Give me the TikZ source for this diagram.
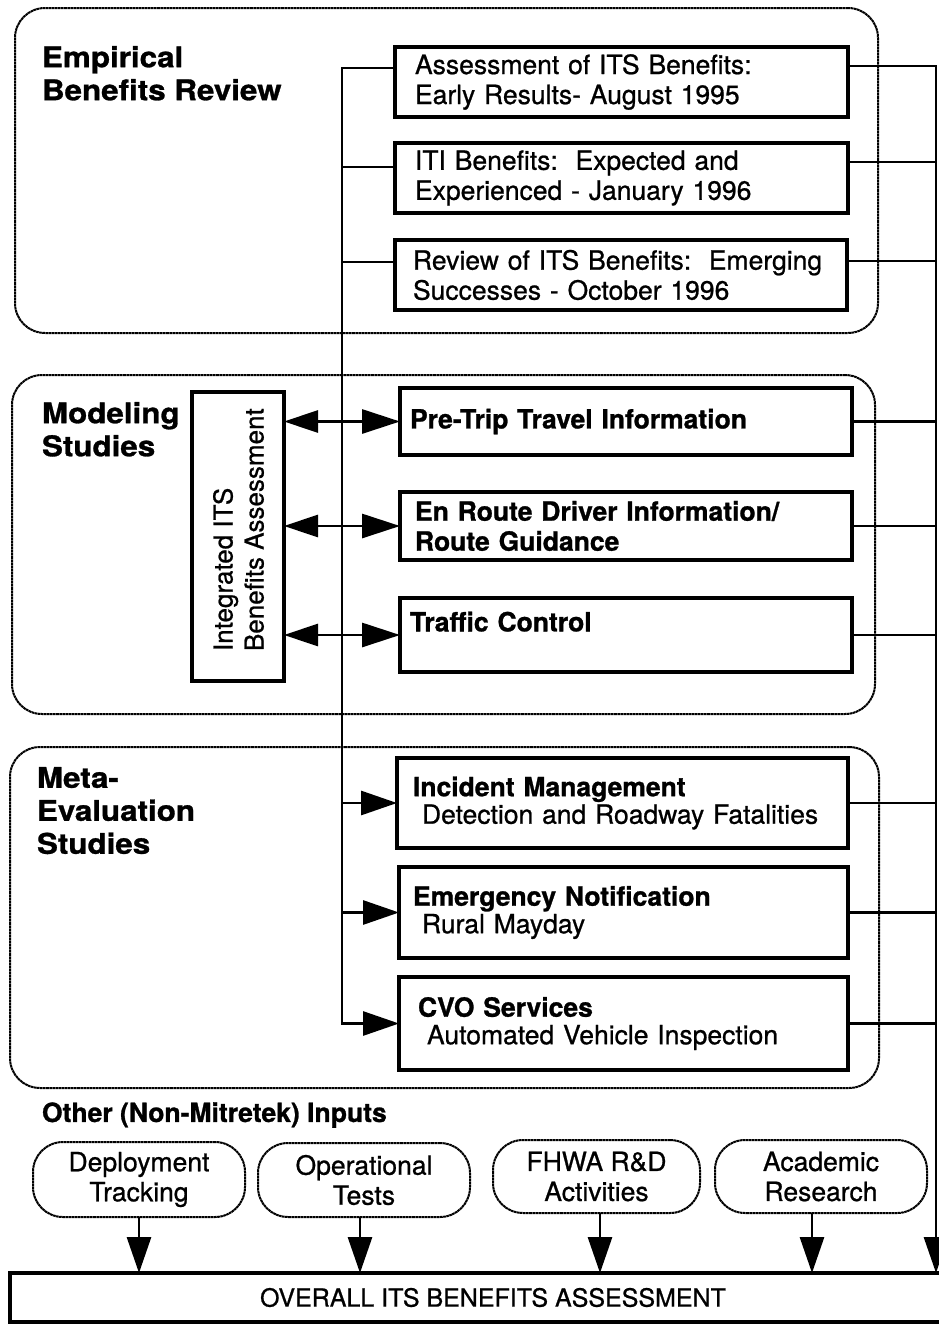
\documentclass[tikz,border=0pt]{standalone}
\usepackage{fontspec}
\setmainfont{TeX Gyre Heros}[UprightFeatures={FakeBold=0.8},BoldFeatures={FakeBold=1.0}]
\newfontfamily\titlefont{TeX Gyre Heros}[FakeStretch=1.1,UprightFeatures={FakeBold=0.8},BoldFeatures={FakeBold=1.0}]
\usetikzlibrary{arrows.meta}
\begin{document}
\begin{tikzpicture}[x=1pt,y=-1pt,
 every node/.style={inner sep=0pt,outer sep=0pt},
 conn/.style={line width=2.9pt},
 arr/.style={-{Triangle[length=36pt,width=24pt]}},
 darr/.style={{Triangle[length=34pt,width=22pt]}-{Triangle[length=38pt,width=24pt]}},
 wavy/.style={draw,line width=2pt,dash pattern=on 2.6pt off 0.5pt},
 grp/.style={wavy,rounded corners=30pt,anchor=north west},
 pill/.style={wavy,rounded corners=30pt,anchor=north west,align=center,font=\fontsize{26.5}{30}\selectfont},
 tbox/.style={draw,line width=3.2pt,anchor=north west,align=left,inner ysep=0pt},
 boxdim/.style n args={4}{minimum width=#1pt,minimum height=#2pt,inner xsep=#3pt,text width=#4pt},
 reg/.style={font=\fontsize{26.5}{30}\selectfont},
 bld/.style={font=\fontsize{26.5}{30}\selectfont\bfseries},
 mix/.style={font=\fontsize{26.5}{27.5}\selectfont},
 title/.style={font=\titlefont\fontsize{28.5}{33}\selectfont\bfseries,align=left,anchor=north west},
]
\fill[white] (0,0) rectangle (939,1325);
\useasboundingbox (0,0) rectangle (939,1325);

% group frames
\node[grp,minimum width=863pt,minimum height=325pt] (g1) at (15,8) {};
\node[grp,minimum width=863pt,minimum height=339pt] (g2) at (12,375) {};
\node[grp,minimum width=869pt,minimum height=341pt] (g3) at (10,747) {};

% titles
\node[title] (t1) at (42,46) {Empirical\\Benefits Review};
\node[title] (t2) at (42,402) {Modeling\\Studies};
\node[title] (t3) at (37,767) {Meta-\\Evaluation\\Studies};

% boxes
\node[tbox,reg,boxdim={453}{70}{20}{413}] (A) at (395,47) {Assessment of ITS Benefits:\\Early Results- August 1995};
\node[tbox,reg,boxdim={453}{70}{20}{413}] (B) at (395,143) {ITI Benefits:\ \ Expected and\\Experienced - January 1996};
\node[tbox,reg,boxdim={452}{70}{18}{416}] (C) at (395,240) {Review of ITS Benefits:\ \ Emerging\\Successes - October 1996};

\node[tbox,bld,boxdim={452}{67}{10}{432}] (P) at (400,388) {Pre-Trip Travel Information};
\node[tbox,bld,boxdim={452}{68}{15}{422}] (E) at (400,492) {En Route Driver Information/\\Route Guidance};
\node[tbox,bld,boxdim={452}{74}{10}{432}] (T) at (400,598) {Traffic Control\\[-12pt]\strut};

\node[tbox,mix,boxdim={451}{90}{16}{419}] (I) at (397,758) {\textbf{Incident Management}\\\hspace*{9pt}Detection and Roadway Fatalities};
\node[tbox,mix,boxdim={449}{91}{14}{421}] (N) at (399,867) {\textbf{Emergency Notification}\\\hspace*{9pt}Rural Mayday};
\node[tbox,mix,boxdim={449}{93}{19}{411}] (V) at (399,977) {\textbf{CVO Services}\\\hspace*{9pt}Automated Vehicle Inspection};

% integrated box
\node[draw,line width=3.2pt,anchor=north west,minimum width=92pt,minimum height=289pt] (Int) at (192,392) {};
\node[rotate=90,anchor=west,align=left,font=\fontsize{26}{31}\selectfont] (IntT) at (238.5,651) {Integrated ITS\\Benefits Assessment};

% bottom
\node[anchor=west,font=\fontsize{26.5}{30}\selectfont\bfseries] (oth) at (42,1115) {Other (Non-Mitretek) Inputs};
\node[pill,minimum width=212pt,minimum height=75pt] (D) at (33,1142) {Deployment\\Tracking};
\node[pill,minimum width=212pt,minimum height=74pt] (O) at (258,1143) {Operational\\Tests};
\node[pill,minimum width=207pt,minimum height=73pt] (F) at (493,1140) {FHWA R\&D\\Activities};
\node[pill,minimum width=212pt,minimum height=73pt] (R) at (715,1140) {Academic\\Research};
\node[draw,line width=3.2pt,anchor=north west,minimum width=966pt,minimum height=49pt,font=\fontsize{25}{30}\selectfont] (Ov) at (10,1273) {OVERALL ITS BENEFITS ASSESSMENT};

\coordinate (busx) at (342,0);
\coordinate (rbus) at (936,0);

% left bus
\draw[conn,arr] ([yshift=14pt]A.west) -| (busx |- V.west) -- (V.west);
\draw[conn] ([yshift=11pt]B.west) -- ([yshift=11pt]B.west -| busx);
\draw[conn] ([yshift=13pt]C.west) -- ([yshift=13pt]C.west -| busx);
\draw[conn,arr] (busx |- I.west) -- (I.west);
\draw[conn,arr] (busx |- N.west) -- (N.west);

% double arrows
\draw[conn,darr] (Int.east |- P.west) -- (P.west);
\draw[conn,darr] (Int.east |- E.west) -- (E.west);
\draw[conn,darr] (Int.east |- T.west) -- (T.west);

% right bus
\draw[conn,arr] ([yshift=16pt]A.east) -| (rbus |- Ov.north);
\draw[conn] ([yshift=16pt]B.east) -- ([yshift=16pt]B.east -| rbus);
\draw[conn] ([yshift=14pt]C.east) -- ([yshift=14pt]C.east -| rbus);
\draw[conn] (P.east) -- (P.east -| rbus);
\draw[conn] (E.east) -- (E.east -| rbus);
\draw[conn] (T.east) -- (T.east -| rbus);
\draw[conn] (I.east) -- (I.east -| rbus);
\draw[conn] (N.east) -- (N.east -| rbus);
\draw[conn] (V.east) -- (V.east -| rbus);

% inputs
\draw[conn,arr] (D.south) -- (D.south |- Ov.north);
\draw[conn,arr] ([xshift=-4pt]O.south) -- ([xshift=-4pt]O.south |- Ov.north);
\draw[conn,arr] ([xshift=3.5pt]F.south) -- ([xshift=3.5pt]F.south |- Ov.north);
\draw[conn,arr] ([xshift=-9pt]R.south) -- ([xshift=-9pt]R.south |- Ov.north);
\end{tikzpicture}
\end{document}
